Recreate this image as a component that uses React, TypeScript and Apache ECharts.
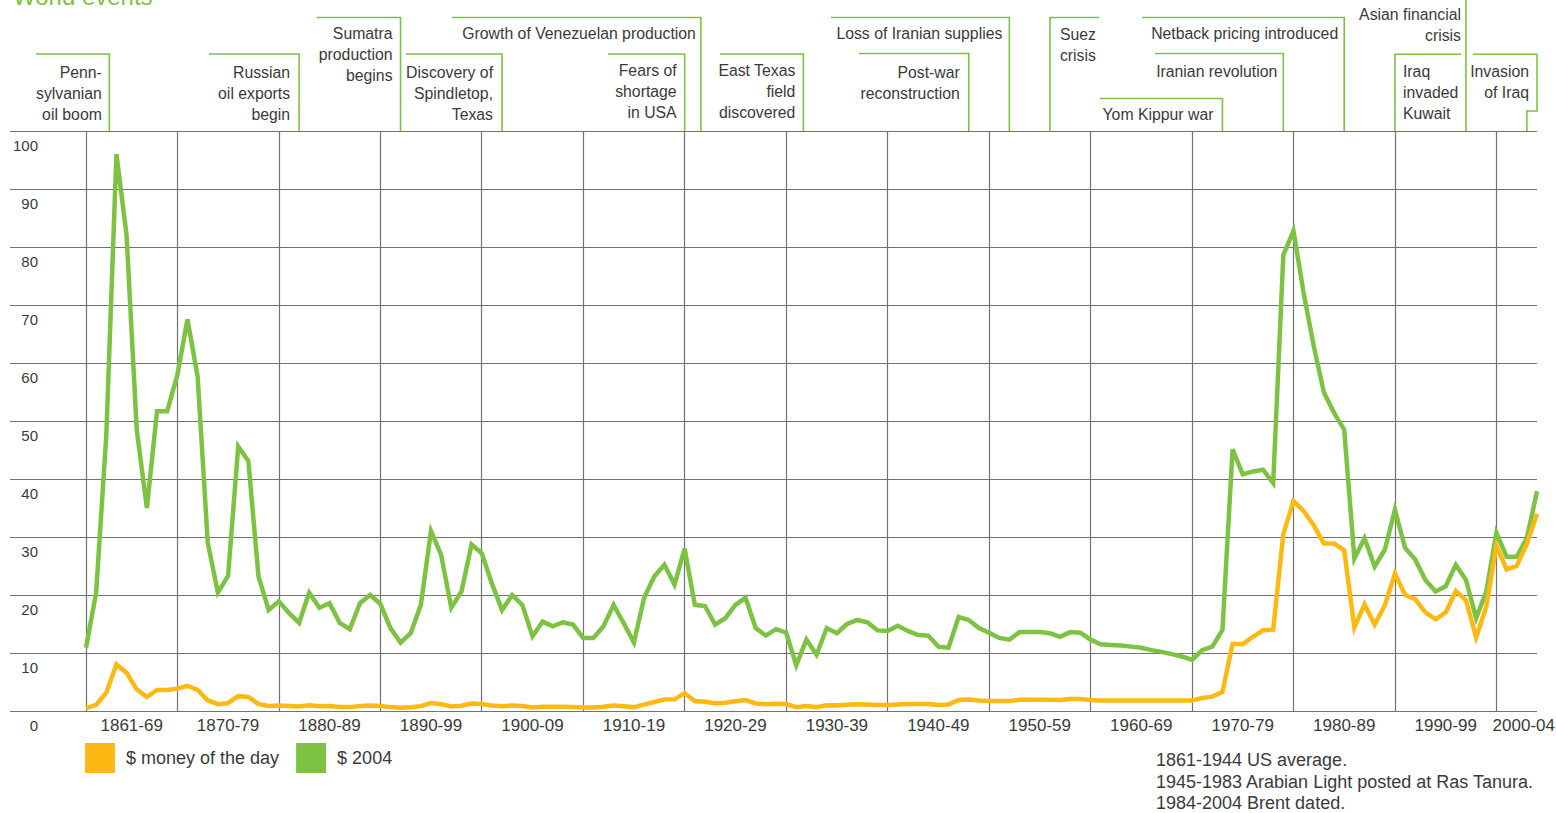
import React, { useEffect, useRef } from "react";
import * as echarts from "echarts";

// ---------- data ----------
const firstYear = 1861;
const lastYear = 2004;

// $ money of the day, 1861 … 2004
const moneyOfTheDay: number[] = [
  0.49, 1.05, 3.15, 8.06, 6.59, 3.74, 2.41, 3.63, 3.64, 3.86,
  4.34, 3.64, 1.83, 1.17, 1.35, 2.56, 2.42, 1.19, 0.86, 0.95,
  0.86, 0.78, 1.0, 0.84, 0.88, 0.71, 0.67, 0.88, 0.94, 0.87,
  0.67, 0.56, 0.64, 0.84, 1.36, 1.18, 0.79, 0.91, 1.29, 1.19,
  0.96, 0.8, 0.94, 0.86, 0.62, 0.73, 0.72, 0.72, 0.7, 0.61,
  0.61, 0.74, 0.95, 0.81, 0.64, 1.1, 1.56, 1.98, 2.01, 3.07,
  1.73, 1.61, 1.34, 1.43, 1.68, 1.88, 1.3, 1.17, 1.27, 1.19,
  0.65, 0.87, 0.67, 1.0, 0.97, 1.09, 1.18, 1.13, 1.02, 1.02,
  1.14, 1.19, 1.2, 1.21, 1.05, 1.12, 1.9, 1.99, 1.8, 1.71,
  1.71, 1.71, 1.93, 1.93, 1.93, 1.93, 1.9, 2.08, 2.08, 1.9,
  1.8, 1.8, 1.8, 1.8, 1.8, 1.8, 1.8, 1.8, 1.8, 1.8,
  2.24, 2.48, 3.29, 11.58, 11.53, 12.8, 13.92, 14.02, 30.5, 36.2,
  34.5, 32.0, 28.9, 28.9, 27.7, 14.4, 18.4, 14.9, 18.2, 23.7,
  20.0, 19.3, 17.0, 15.8, 17.0, 20.7, 19.1, 12.7, 18.0, 28.5,
  24.4, 25.0, 28.8, 34.0,
];

// $ 2004, 1861 … 2004
const dollars2004: number[] = [
  10.9, 20.4, 47.5, 96.0, 82.0, 48.5, 35.0, 51.7, 51.7, 57.9,
  67.5, 57.7, 29.0, 20.4, 23.3, 45.6, 43.1, 23.2, 17.4, 18.9,
  16.9, 15.2, 20.4, 17.8, 18.6, 15.2, 14.1, 18.6, 20.0, 18.5,
  14.3, 11.8, 13.4, 18.3, 31.0, 26.9, 17.8, 20.6, 28.7, 27.2,
  22.0, 17.4, 20.0, 18.3, 12.9, 15.4, 14.6, 15.3, 14.9, 12.6,
  12.6, 14.6, 18.3, 15.1, 11.8, 19.5, 23.2, 25.2, 21.8, 28.0,
  18.3, 18.1, 14.9, 16.0, 18.3, 19.5, 14.3, 13.0, 14.1, 13.5,
  7.9, 12.3, 9.7, 14.3, 13.4, 15.0, 15.7, 15.3, 13.9, 13.8,
  14.7, 13.8, 13.1, 13.0, 11.1, 10.9, 16.2, 15.7, 14.3, 13.5,
  12.6, 12.3, 13.6, 13.6, 13.6, 13.4, 12.8, 13.6, 13.5, 12.3,
  11.5, 11.4, 11.3, 11.1, 10.9, 10.5, 10.2, 9.8, 9.4, 8.8,
  10.5, 11.1, 14.0, 45.1, 40.8, 41.3, 41.6, 39.3, 78.6, 82.8,
  72.1, 62.9, 54.9, 51.4, 48.5, 26.3, 29.8, 24.9, 27.8, 34.7,
  28.1, 26.1, 22.6, 20.6, 21.5, 25.2, 22.6, 16.0, 20.6, 30.7,
  26.6, 26.6, 29.8, 37.9,
];

const seriesNames = ["$ money of the day", "$ 2004"];

const decadeStarts = [1861, 1870, 1880, 1890, 1900, 1910, 1920, 1930, 1940, 1950, 1960, 1970, 1980, 1990, 2000];
const decadeLabels = [
  "1861-69", "1870-79", "1880-89", "1890-99", "1900-09", "1910-19", "1920-29",
  "1930-39", "1940-49", "1950-59", "1960-69", "1970-79", "1980-89", "1990-99", "2000-04",
];

const eventTexts = [
  "Penn-\nsylvanian\noil boom",
  "Russian\noil exports\nbegin",
  "Sumatra\nproduction\nbegins",
  "Discovery of\nSpindletop,\nTexas",
  "Growth of Venezuelan production",
  "Fears of\nshortage\nin USA",
  "East Texas\nfield\ndiscovered",
  "Loss of Iranian supplies",
  "Post-war\nreconstruction",
  "Suez\ncrisis",
  "Netback pricing introduced",
  "Iranian revolution",
  "Yom Kippur war",
  "Asian financial\ncrisis",
  "Iraq\ninvaded\nKuwait",
  "Invasion\nof Iraq",
];
const eventYears = [1863.3, 1882, 1892, 1902, 1921.6, 1920, 1931.7, 1952, 1948, 1956, 1985, 1979, 1973, 1997, 1990, 2003];

const footnotes = [
  "1861-1944 US average.",
  "1945-1983 Arabian Light posted at Ras Tanura.",
  "1984-2004 Brent dated.",
];

// ---------- layout / style (not data) ----------
const eventLayout = [
  { side: "r", barY: 54, barEnd: 36, textDx: -7.5, textY: 72 },
  { side: "r", barY: 54, barEnd: 209, textDx: -9, textY: 72 },
  { side: "r", barY: 17.5, barEnd: 317, textDx: -8, textY: 33 },
  { side: "r", barY: 54, barEnd: 406, textDx: -9, textY: 72 },
  { side: "r", barY: 17.5, barEnd: 452, textDx: -5, textY: 33 },
  { side: "r", barY: 54, barEnd: 608, textDx: -8, textY: 70 },
  { side: "r", barY: 54, barEnd: 720, textDx: -8, textY: 70 },
  { side: "r", barY: 17.5, barEnd: 831, textDx: -7, textY: 33 },
  { side: "r", barY: 53.5, barEnd: 859, textDx: -9, textY: 72 },
  { side: "l", barY: 17.5, barEnd: 1099, textDx: 10, textY: 34 },
  { side: "r", barY: 17.5, barEnd: 1142, textDx: -6, textY: 33 },
  { side: "r", barY: 53.5, barEnd: 1155, textDx: -6, textY: 71 },
  { side: "r", barY: 98.5, barEnd: 1100, textDx: -9, textY: 114 },
  { side: "r", barY: -6, barEnd: 1360, textDx: -5, textY: 14 },
  { side: "l", barY: 54.3, barEnd: 1461, textDx: 8, textY: 71 },
  { side: "jog", barY: 54.3, barEnd: 1473, textDx: -8, textY: 71, jogY: 111 },
];

const GREEN = "#7dc242";
const ORANGE = "#fdb913";
const GRID = "#727272";
const TEXT = "#3a3a3a";
const FONT = "'Liberation Sans', Arial, Helvetica, sans-serif";

export default function App() {
  const ref = useRef<HTMLDivElement>(null);

  useEffect(() => {
    if (!ref.current) return;
    const chart = echarts.init(ref.current, null, { renderer: "svg" });

    const years: number[] = [];
    for (let y = firstYear; y <= lastYear; y++) years.push(y);

    const labelPositions = decadeStarts.map((s, i) =>
      i < decadeStarts.length - 1 ? (s + decadeStarts[i + 1]) / 2 : s + 2.7
    );

    const option: any = {
      animation: false,
      grid: [
        { left: 10, right: 19, top: 131, bottom: 102, outerBoundsMode: "none", containLabel: false },
        { left: 86, right: 19, top: 131, bottom: 102, outerBoundsMode: "none", containLabel: false },
      ],
      xAxis: [
        { gridIndex: 0, type: "value", min: 0, max: 1, show: false },
        {
          gridIndex: 1,
          type: "value",
          min: firstYear,
          max: lastYear,
          axisLine: { show: false },
          axisTick: { show: false, customValues: decadeStarts },
          splitLine: { show: true, lineStyle: { color: GRID, width: 1.2 } },
          axisLabel: {
            customValues: labelPositions,
            formatter: (v: number) => {
              const i = labelPositions.findIndex((p) => Math.abs(p - v) < 0.01);
              return i >= 0 ? decadeLabels[i] : "";
            },
            fontSize: 17,
            color: TEXT,
            fontFamily: FONT,
            margin: 6,
          },
        },
      ],
      yAxis: [
        {
          gridIndex: 0,
          type: "value",
          min: 0,
          max: 100,
          interval: 10,
          axisLine: { show: false },
          axisTick: { show: false },
          axisLabel: { show: false },
          splitLine: { show: true, lineStyle: { color: GRID, width: 1.2 } },
        },
        {
          gridIndex: 1,
          type: "value",
          min: 0,
          max: 100,
          interval: 10,
          axisLine: { show: false },
          axisTick: { show: false },
          splitLine: { show: false },
          axisLabel: {
            margin: 48,
            fontSize: 15,
            color: TEXT,
            fontFamily: FONT,
            verticalAlign: "top",
            lineHeight: 28,
          },
        },
      ],
      legend: {
        left: 85,
        top: 743,
        padding: 0,
        itemWidth: 30,
        itemHeight: 30,
        itemGap: 17,
        icon: "rect",
        textStyle: { fontSize: 18, color: TEXT, fontFamily: FONT, padding: [0, 0, 0, 6] },
        data: seriesNames,
      },
      series: [
        {
          name: seriesNames[0],
          type: "line",
          xAxisIndex: 1,
          yAxisIndex: 1,
          data: years.map((y, i) => [y, moneyOfTheDay[i]]),
          symbol: "none",
          showSymbol: false,
          lineStyle: { color: ORANGE, width: 4.5, join: "miter" },
          itemStyle: { color: ORANGE },
          z: 3,
        },
        {
          name: seriesNames[1],
          type: "line",
          xAxisIndex: 1,
          yAxisIndex: 1,
          data: years.map((y, i) => [y, dollars2004[i]]),
          symbol: "none",
          showSymbol: false,
          lineStyle: { color: GREEN, width: 4.5, join: "miter" },
          itemStyle: { color: GREEN },
          z: 2,
        },
      ],
    };
    chart.setOption(option);

    const plotTop = chart.convertToPixel({ yAxisIndex: 1 }, 100) as number;
    const plotRight = chart.convertToPixel({ xAxisIndex: 1 }, lastYear) as number;
    const graphics: any[] = [];
    const lineH = 21;

    eventTexts.forEach((text, i) => {
      const L: any = eventLayout[i];
      const vx = chart.convertToPixel({ xAxisIndex: 1 }, eventYears[i]) as number;
      let points: number[][];
      let anchorX: number;
      let align: string;
      if (L.side === "jog") {
        points = [
          [L.barEnd, L.barY],
          [plotRight, L.barY],
          [plotRight, L.jogY],
          [vx, L.jogY],
          [vx, plotTop],
        ];
        anchorX = plotRight + L.textDx;
        align = "right";
      } else {
        points = [
          [L.barEnd, L.barY],
          [vx, L.barY],
          [vx, plotTop],
        ];
        anchorX = vx + L.textDx;
        align = L.side === "r" ? "right" : "left";
      }
      graphics.push({
        type: "polyline",
        shape: { points },
        style: { stroke: GREEN, lineWidth: 1.6, fill: "none" },
        z: 10,
      });
      graphics.push({
        type: "text",
        x: anchorX,
        y: L.textY - lineH / 2,
        style: {
          text,
          fill: TEXT,
          fontSize: 15.8,
          fontFamily: FONT,
          align,
          verticalAlign: "top",
          lineHeight: lineH,
        },
        z: 10,
      });
    });

    graphics.push({
      type: "text",
      x: 13,
      y: -4,
      style: {
        text: "World events",
        fill: GREEN,
        fontSize: 24,
        fontFamily: FONT,
        align: "left",
        verticalAlign: "middle",
      },
    });

    graphics.push({
      type: "text",
      x: 1156,
      y: 760 - 10.85,
      style: {
        text: footnotes.join("\n"),
        fill: TEXT,
        fontSize: 18,
        fontFamily: FONT,
        align: "left",
        verticalAlign: "top",
        lineHeight: 21.7,
      },
    });

    chart.setOption({ graphic: graphics });

    return () => {
      chart.dispose();
    };
  }, []);

  return (
    <div
      ref={ref}
      style={{ position: "absolute", left: 0, top: 0, width: 1556, height: 813, background: "#fff" }}
    />
  );
}
